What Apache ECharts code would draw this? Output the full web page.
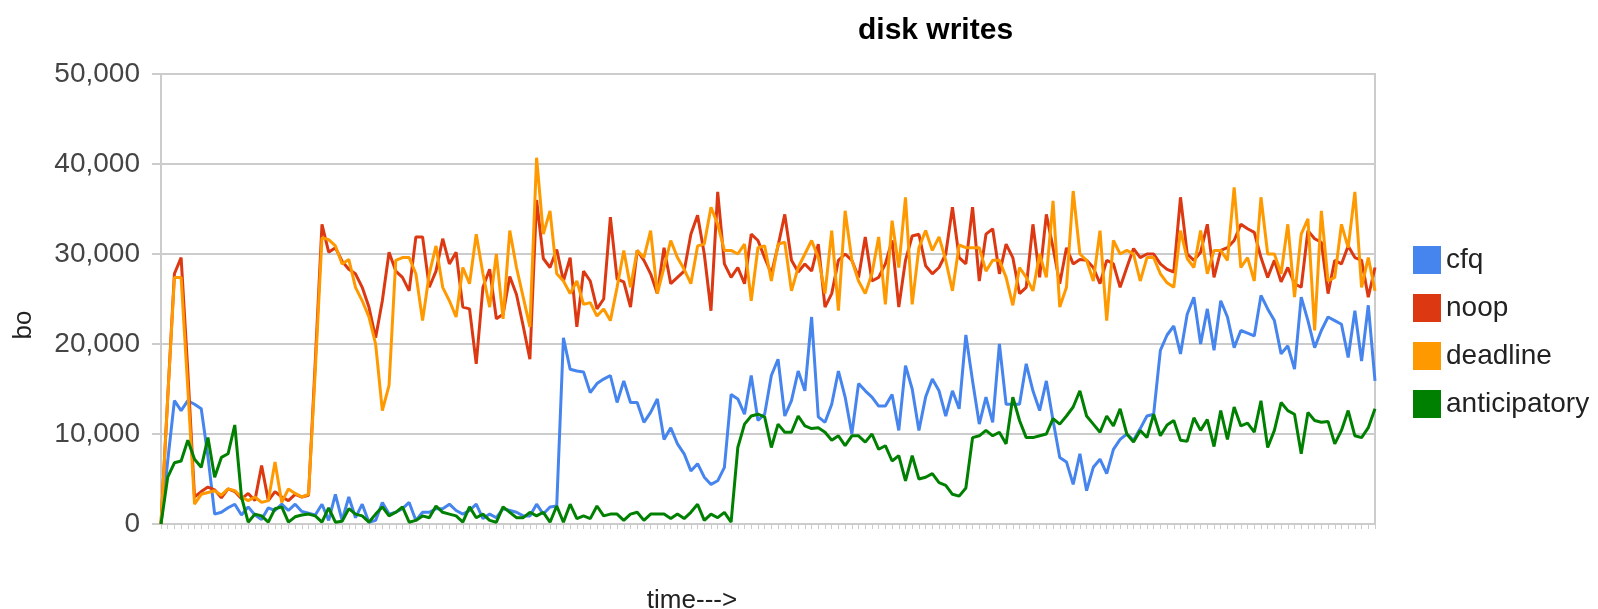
<!DOCTYPE html>
<html>
<head>
<meta charset="utf-8">
<title>disk writes</title>
<script src="https://cdn.jsdelivr.net/npm/echarts@6/dist/echarts.min.js"></script>
<style>
  html, body { margin: 0; padding: 0; background: #fff; }
  #main { width: 1598px; height: 609px; }
</style>
</head>
<body>
<div id="main"></div>
<script>
// bo values per sample
var cfq = [
  0,7000,13700,12600,13700,13300,12800,7500,1100,1300, 1800,2200,1000,1900,1000,500,1800,1500,2200,1500, 2200,1400,1200,1000,2200,400,3300,400,3000,700,
  2200,200,400,2400,1100,1300,1700,2400,400,1300, 1300,1700,1700,2200,1500,1100,1500,2200,600,1100, 700,1700,1500,1300,900,900,2200,1100,1900,2000,
  20700,17200,17000,16900,14600,15600,16100,16500,13500,15900, 13500,13500,11300,12400,13900,9400,10700,8900,7800,5900, 6700,5200,4400,4800,6300,14400,13900,12200,16500,11500,
  12200,16500,18300,12000,13700,17000,14800,23000,11900,11300, 13300,17000,14100,10000,15600,14800,14100,13100,13100,14400, 10400,17600,15000,10400,14100,16100,14800,12000,14800,12800,
  21000,15900,11100,14100,11300,20000,13300,13300,13300,17800, 14800,12600,15900,11500,7400,6900,4400,7800,3700,6300, 7200,5600,8300,9400,10000,9300,10600,12000,12200,19300,
  21000,22000,18900,23300,25200,20000,23900,19300,24800,23000, 19600,21500,21200,20900,25400,23900,22600,18900,19800,17200, 25200,22600,19600,21500,23000,22600,22200,18500,23700,18100, 24300,15900
];
var noop = [
  0,14000,27800,29600,17000,3000,3600,4100,3800,2900, 3900,3600,2800,3400,2600,6500,2600,3600,3000,2600, 3300,3000,3200,18000,33300,30200,30700,29200,28300,27800,
  26300,24100,20700,24800,30200,28100,27400,25900,31900,31900, 26300,28100,31700,28900,30200,24100,23900,17800,26300,28300, 22800,23300,27500,25500,22000,18300,36000,29500,28500,30500,
  27000,29600,21900,28100,27000,23900,25000,34100,27200,26900, 24100,30400,29300,27800,25600,30700,26700,27400,28100,32200, 34300,30000,23700,36900,28900,27400,28500,26700,32200,31500,
  29600,27800,30900,34400,29300,28000,28900,28100,31100,24100, 25600,29300,30000,29300,27400,31900,27000,27400,28900,31500, 24100,29300,32000,32200,28700,27800,28500,30000,35200,29600,
  28900,35200,27000,32200,32800,27800,31100,29600,25600,26300, 33300,27400,34400,30700,26700,30700,28900,29400,29300,28500, 26700,29300,28900,26300,28500,30600,29600,30000,30000,28900,
  28300,28000,36300,30000,29300,30200,33300,27400,30400,30700, 31500,33300,32800,32400,29600,27400,29300,26900,28500,26700, 26300,32600,31700,31300,25600,29300,28900,30900,29600,29300, 25200,28500
];
var deadline = [
  0,14000,27400,27400,15000,2200,3300,3500,3700,3200, 3900,3700,3000,2600,3000,2400,2600,6900,2400,3900, 3400,3000,3300,17000,31800,31600,30900,28900,29400,26300,
  24800,23000,20000,12600,15400,29300,29600,29600,27800,22600, 27800,30900,26300,24800,23000,28500,26700,32200,27800,24100, 30000,22800,32600,28500,25200,21900,40700,32200,34800,27800,
  27000,25600,27000,24400,24600,23100,23900,22600,26300,30400, 26300,30400,29600,32600,25600,28500,31500,29600,28300,26700, 30900,31100,35200,33300,30400,30400,30000,31100,24800,30700,
  30900,27000,31100,31300,25900,28500,30000,31500,29600,25600, 32600,23700,34800,29300,27000,25600,27800,31900,24400,33700, 28500,36300,24400,30700,32600,30400,31900,29300,25900,31000,
  30700,30700,30700,28100,29300,29300,27400,24300,28500,27400, 25900,30000,27400,35900,24100,26300,37000,30000,29300,27000, 32600,22600,31500,30000,30400,30000,27000,29600,29600,27800,
  26800,26300,32600,29500,28500,32600,27800,30400,30400,29300, 37400,28500,29600,27000,36300,30000,30000,27800,33300,25200, 32200,33900,21500,34800,27000,27400,33300,30700,36900,26300, 29600,25900
];
var anticipatory = [
  0,5200,6800,7000,9300,7200,6300,9600,5200,7400, 7800,11000,3000,200,1100,900,200,1700,1900,200, 800,1000,1100,900,200,1800,200,300,1700,1100,
  900,200,1100,1900,900,1300,1900,200,400,900, 700,2000,1300,1100,900,200,1900,700,1100,400, 200,1900,1300,700,700,1300,900,1300,200,2000,
  200,2200,600,900,600,2000,900,1100,1100,400, 1100,1300,400,1100,1100,1100,600,1100,600,1300, 2200,400,1100,700,1300,200,8500,11100,12000,12200,
  11900,8500,11100,10200,10200,12000,10900,10600,10700,10200, 9300,9800,8700,9800,9800,9100,10000,8300,8700,7000, 7600,4800,7600,5000,5200,5600,4600,4300,3300,3100,
  4000,9600,9800,10400,9800,10200,8900,14100,11500,9600, 9600,9800,10000,11700,11100,12000,13000,14800,12000,11100, 10200,12000,10900,12800,10000,9100,10400,9600,12200,9800,
  11000,11500,9300,9200,11800,10400,11600,8600,12600,9400, 13000,10900,11200,10200,13700,8500,10400,13500,12600,12200, 7800,12400,11500,11300,11400,8900,10400,12600,9800,9600, 10700,12800
];
var yTicks = [0, 10000, 20000, 30000, 40000, 50000];

// time axis has no labels, just one slot per sample
var times = [];
for (var i = 0; i < cfq.length; i++) {
  times.push(i + 1);
}

var font = 'Liberation Sans, Arial, sans-serif';

function addCommas(v) {
  return String(v).replace(/\B(?=(\d{3})+(?!\d))/g, ',');
}

function lineSeries(name, data, color) {
  return {
    name: name,
    type: 'line',
    data: data,
    symbol: 'none',
    smooth: false,
    lineStyle: { color: color, width: 3 },
    itemStyle: { color: color }
  };
}

var chart = echarts.init(document.getElementById('main'), null, { renderer: 'canvas' });
var option = {
  backgroundColor: '#fff',
  animation: false,
  title: {
    text: 'disk writes',
    left: 853,
    top: 11,
    textStyle: { fontFamily: font, fontSize: 30, fontWeight: 'bold', color: '#000' }
  },
  legend: {
    orient: 'vertical',
    left: 1413,
    top: 246,
    padding: 0,
    itemWidth: 28,
    itemHeight: 28,
    itemGap: 20,
    icon: 'rect',
    textStyle: { fontFamily: font, fontSize: 28, color: '#222' },
    data: ['cfq', 'noop', 'deadline', 'anticipatory']
  },
  grid: {
    left: 161,
    right: 223,
    top: 74,
    bottom: 85,
    show: true,
    borderColor: '#ccc',
    borderWidth: 2,
    containLabel: false,
    outerBoundsMode: 'none'
  },
  xAxis: {
    type: 'category',
    data: times,
    boundaryGap: false,
    name: 'time--->',
    nameLocation: 'middle',
    nameGap: 64,
    nameTextStyle: { fontFamily: font, fontSize: 26, color: '#222', padding: [0, 152, 0, 0] },
    axisLine: { show: true, lineStyle: { color: '#ccc', width: 2 } },
    axisTick: { show: true, interval: 0, length: 5, lineStyle: { color: '#ccc', width: 1 } },
    axisLabel: { show: false },
    splitLine: { show: false }
  },
  yAxis: {
    type: 'value',
    min: yTicks[0],
    max: yTicks[yTicks.length - 1],
    interval: 10000,
    name: 'bo',
    nameLocation: 'middle',
    nameRotate: 90,
    nameGap: 124,
    nameTextStyle: { fontFamily: font, fontSize: 26, color: '#222', padding: [0, 52, 0, 0] },
    axisLine: { show: true, lineStyle: { color: '#ccc', width: 2 } },
    axisTick: { show: true, length: 9, lineStyle: { color: '#ccc', width: 2 } },
    axisLabel: {
      margin: 21,
      fontFamily: font,
      fontSize: 28,
      color: '#444',
      padding: [6, 0, 0, 0],
      formatter: function (v) { return addCommas(v); }
    },
    splitLine: { show: true, lineStyle: { color: '#ccc', width: 2 } }
  },
  series: [
    lineSeries('cfq', cfq, '#4684ee'),
    lineSeries('noop', noop, '#dc3912'),
    lineSeries('deadline', deadline, '#ff9900'),
    lineSeries('anticipatory', anticipatory, '#008000')
  ]
};
chart.setOption(option);
</script>
</body>
</html>
